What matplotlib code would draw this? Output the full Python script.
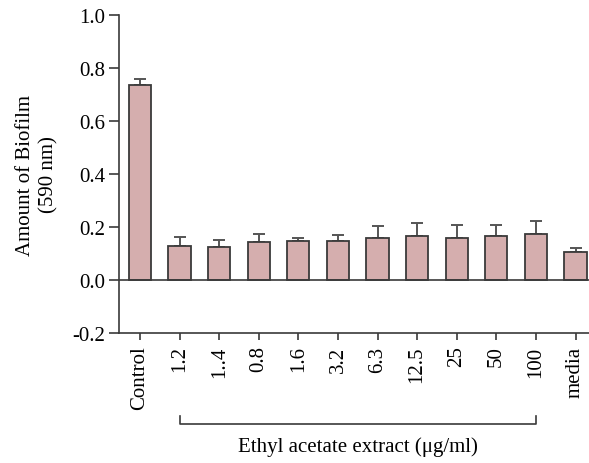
import numpy as np
import matplotlib.pyplot as plt
from matplotlib.transforms import blended_transform_factory

plt.rcParams['font.family'] = 'Liberation Serif'

# biofilm absorbance at 590 nm, mean and upper error
categories = ["Control", "1.2", "1..4", "0.8", "1.6", "3.2", "6.3",
              "12.5", "25", "50", "100", "media"]
biofilm = [0.737, 0.128, 0.125, 0.143, 0.147, 0.147, 0.157,
           0.165, 0.159, 0.165, 0.172, 0.105]
err_up = [0.021, 0.033, 0.026, 0.032, 0.013, 0.024, 0.046,
          0.051, 0.050, 0.042, 0.052, 0.017]
yticks = [-0.2, 0.0, 0.2, 0.4, 0.6, 0.8, 1.0]

dark = '#3a3a3a'
fill = '#d5aeae'
fs = 15

fig = plt.figure(figsize=(5.89, 4.64), dpi=100)
ax = fig.add_axes([119 / 589, 130 / 464, 470 / 589, 318 / 464])

x = np.arange(len(categories))
ax.bar(x, biofilm, width=0.56, color=fill, edgecolor=dark, linewidth=1.3, zorder=3)
ax.errorbar(x, biofilm, yerr=[np.zeros(len(x)), err_up], fmt='none',
            ecolor='#555555', elinewidth=1.4, capsize=4, capthick=1.4, zorder=2)

ax.axhline(0, color=dark, linewidth=1.2, zorder=4)
ax.set_xlim(-0.53, 11.34)
ax.set_ylim(-0.2, 1.0)
ax.set_yticks(yticks)
ax.set_yticklabels(['%.1f' % v for v in yticks])
ax.set_xticks(x)
ax.set_xticklabels(categories, rotation=90)

for side in ['top', 'right']:
    ax.spines[side].set_visible(False)
for side in ['left', 'bottom']:
    ax.spines[side].set_color(dark)
    ax.spines[side].set_linewidth(1.2)
ax.tick_params(axis='y', direction='out', length=7, width=1.2, color=dark,
               labelsize=fs, pad=3)
ax.tick_params(axis='x', direction='out', length=5, width=1.2, color=dark,
               labelsize=fs, pad=4)

ax.set_ylabel('Amount of Biofilm\n(590 nm)', fontsize=fs, labelpad=10,
              linespacing=1.3)

# bracket spanning the extract concentrations
tr = blended_transform_factory(ax.transData, fig.transFigure)
yb_top = 1 - 417 / 464
yb_bot = 1 - 425 / 464
ax.plot([1, 1, 10, 10], [yb_top, yb_bot, yb_bot, yb_top], color=dark,
        linewidth=1.2, transform=tr, clip_on=False)
ax.text(5.5, 1 - 447 / 464, 'Ethyl acetate extract (μg/ml)', transform=tr,
        ha='center', va='center', fontsize=fs)

fig.savefig('out.png', dpi=100)
